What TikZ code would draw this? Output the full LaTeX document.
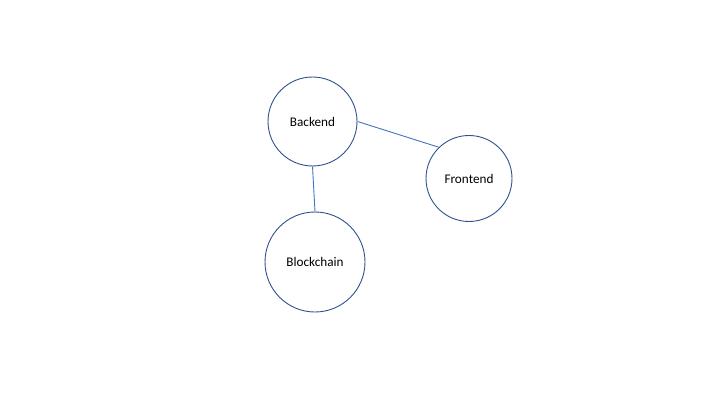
\documentclass[tikz,border=0pt]{standalone}
\usepackage{fontspec}
\setmainfont{Carlito}
\usepackage{tikz}
\usetikzlibrary{calc,positioning}
\definecolor{ringblue}{HTML}{2F528F}
\definecolor{linkblue}{HTML}{4472C4}
\tikzset{
  ring/.style={circle, draw=ringblue, fill=white, line width=0.9pt, inner sep=0pt, font=\fontsize{13.2}{15}\selectfont},
  link/.style={draw=linkblue, line width=0.9pt}
}
\begin{document}
\begin{tikzpicture}[x=1pt,y=1pt]
  \useasboundingbox (0,0) rectangle (720,405);
  \node[ring, minimum size=89pt]  (backend)    at (312.5,283.5) {Backend};
  \node[ring, minimum size=86pt]  (frontend)   at (469,226.5)   {Frontend};
  \node[ring, minimum size=100pt] (blockchain) at (315,143)     {Blockchain};
  \draw[link] (backend.east) -- (frontend.134);
  \draw[link] (backend.south) -- (blockchain.north);
\end{tikzpicture}
\end{document}
